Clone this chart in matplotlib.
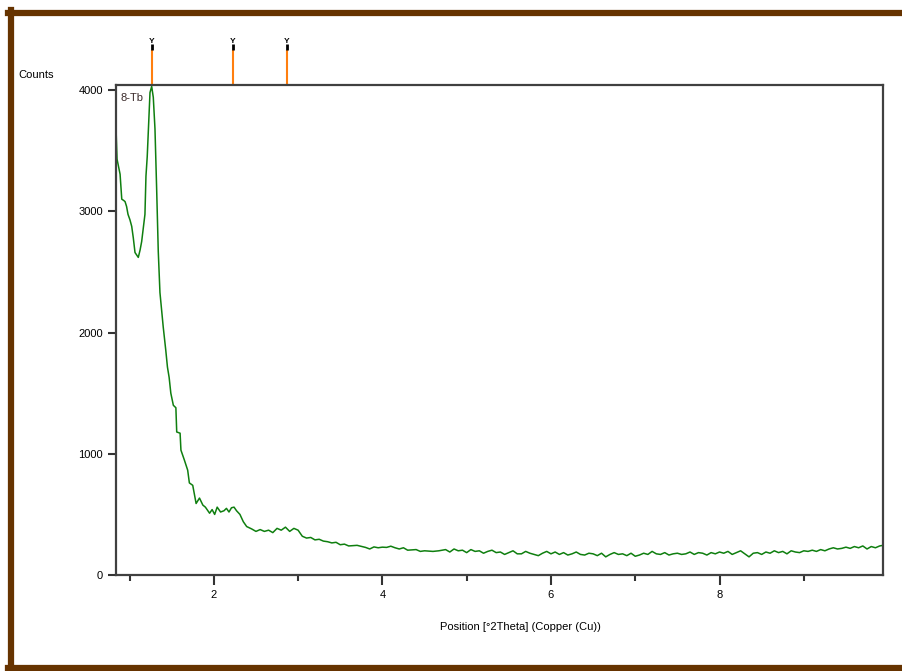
import numpy as np
import matplotlib
matplotlib.use("Agg")
import matplotlib.pyplot as plt
from matplotlib.lines import Line2D
import matplotlib.transforms as mtransforms

plt.rcParams['font.family'] = ['Liberation Sans Narrow', 'Liberation Sans', 'DejaVu Sans']

# scan readings (position in deg 2theta, counts)
pos = [0.840, 0.852, 0.888, 0.908, 0.930, 0.947, 0.965, 0.982, 1.005, 1.026, 1.045, 1.065,
       1.085, 1.104, 1.125, 1.144, 1.165, 1.183, 1.195, 1.210, 1.222, 1.243, 1.263, 1.282,
       1.302, 1.322, 1.341, 1.361, 1.40, 1.43, 1.45, 1.47, 1.49, 1.52, 1.55, 1.56, 1.60,
       1.61, 1.65, 1.69, 1.71, 1.75, 1.79, 1.83, 1.87, 1.90, 1.95, 1.98, 2.01, 2.04, 2.08,
       2.12, 2.15, 2.18, 2.21, 2.24, 2.27, 2.31, 2.35, 2.39, 2.45, 2.50, 2.55, 2.60, 2.65,
       2.70, 2.75, 2.80, 2.85, 2.90, 2.95, 3.00, 3.05, 3.10, 3.15, 3.20, 3.25, 3.30, 3.35,
       3.40, 3.45, 3.50, 3.55, 3.60, 3.70, 3.80, 3.85, 3.90, 3.95, 4.00, 4.05, 4.10, 4.15,
       4.20, 4.25, 4.30, 4.40, 4.45, 4.50, 4.60, 4.67, 4.75, 4.80, 4.85, 4.90, 4.95, 5.00,
       5.05, 5.10, 5.15, 5.20, 5.25, 5.30, 5.35, 5.40, 5.45, 5.50, 5.55, 5.60, 5.65, 5.70,
       5.75, 5.80, 5.85, 5.90, 5.95, 6.00, 6.05, 6.10, 6.15, 6.20, 6.25, 6.30, 6.35, 6.40,
       6.45, 6.50, 6.55, 6.60, 6.65, 6.70, 6.75, 6.80, 6.85, 6.90, 6.95, 7.00, 7.05, 7.10,
       7.15, 7.20, 7.25, 7.30, 7.35, 7.40, 7.45, 7.50, 7.55, 7.60, 7.65, 7.70, 7.75, 7.80,
       7.85, 7.90, 7.95, 8.00, 8.05, 8.10, 8.15, 8.20, 8.25, 8.30, 8.35, 8.40, 8.45, 8.50,
       8.55, 8.60, 8.65, 8.70, 8.75, 8.80, 8.85, 8.90, 8.95, 9.00, 9.05, 9.10, 9.15, 9.20,
       9.25, 9.30, 9.35, 9.40, 9.45, 9.50, 9.55, 9.60, 9.65, 9.70, 9.75, 9.80, 9.85, 9.90,
       9.94]
counts = [3680, 3430, 3306, 3100, 3090, 3080, 3040, 2975, 2930, 2876, 2780, 2660,
          2640, 2620, 2680, 2750, 2870, 2975, 3290, 3450, 3636, 3980, 4030, 3940,
          3680, 3180, 2670, 2330, 2045, 1855, 1715, 1630, 1500, 1400, 1380, 1180, 1170,
          1030, 950, 865, 760, 740, 590, 635, 577, 560, 510, 540, 500, 560, 520,
          530, 550, 520, 555, 560, 530, 500, 440, 400, 380, 360, 375, 360, 370,
          350, 385, 370, 395, 360, 385, 370, 320, 305, 310, 290, 295, 280, 275,
          265, 270, 250, 255, 240, 245, 228, 215, 232, 225, 230, 228, 238, 225,
          215, 225, 205, 210, 195, 200, 195, 200, 210, 190, 215, 200, 205, 185,
          210, 195, 200, 180, 195, 205, 185, 190, 170, 185, 200, 175, 175, 195,
          180, 170, 160, 180, 195, 175, 190, 170, 185, 165, 175, 190, 170, 165,
          180, 175, 160, 180, 150, 170, 185, 170, 175, 160, 180, 155, 165, 180,
          170, 195, 175, 170, 185, 165, 175, 180, 170, 175, 190, 170, 185, 180,
          165, 185, 175, 190, 180, 195, 170, 185, 200, 175, 150, 180, 185, 170,
          190, 180, 200, 185, 195, 175, 200, 190, 185, 200, 195, 205, 195, 210,
          200, 215, 225, 215, 220, 230, 220, 235, 225, 240, 215, 235, 225, 240,
          245]

# reference peak positions
ref_pos = [1.266, 2.225, 2.864]

fig = plt.figure(figsize=(9.03, 6.71), dpi=100)
ax = fig.add_axes([0.1285, 0.143, 0.8494, 0.730])

ax.plot(pos, counts, color='#0f7f0f', lw=1.1)

ax.set_xlim(0.84, 9.94)
ax.set_ylim(0, 4040)
ax.set_xticks([2, 4, 6, 8])
ax.set_xticks([1, 3, 5, 7, 9], minor=True)
ax.set_yticks([0, 1000, 2000, 3000, 4000])
ax.tick_params(axis='both', which='major', labelsize=8, color='#333333', width=1.5)
ax.tick_params(axis='x', which='major', length=7)
ax.tick_params(axis='x', which='minor', length=4, width=1.5, color='#333333')
ax.tick_params(axis='y', which='major', length=6)
for s in ax.spines.values():
    s.set_color('#404040')
    s.set_linewidth(1.6)

ax.text(0.006, 0.985, '8-Tb', transform=ax.transAxes, fontsize=8,
        color='#3a2a2a', va='top', ha='left')

# reference sticks above the frame
trans = mtransforms.blended_transform_factory(ax.transData, ax.transAxes)
ax.vlines(ref_pos, 1.0, 1.072, colors='#ff7f0f', lw=1.5, transform=trans, clip_on=False)
ax.vlines(ref_pos, 1.072, 1.085, colors='black', lw=2, transform=trans, clip_on=False)
for p in ref_pos:
    ax.text(p, 1.083, 'Y', transform=trans, fontsize=6, ha='center', va='bottom',
            color='black', fontweight='bold', clip_on=False)

fig.text(18 / 903, 1 - 75 / 671, 'Counts', fontsize=8, ha='left', va='center')
fig.text(520 / 903, 1 - 627 / 671, 'Position [°2Theta] (Copper (Cu))', fontsize=8,
         ha='center', va='center')

# brown frame
brown = '#663300'
fig.add_artist(Line2D([11 / 903, 11 / 903], [0, 1 - 10 / 671], color=brown, lw=4.5,
                      transform=fig.transFigure))
fig.add_artist(Line2D([8 / 903, 1], [1 - 13 / 671, 1 - 13 / 671], color=brown, lw=4.5,
                      transform=fig.transFigure))
fig.add_artist(Line2D([8 / 903, 1], [3 / 671, 3 / 671], color=brown, lw=4.5,
                      transform=fig.transFigure))

fig.savefig('out.png', dpi=100)
